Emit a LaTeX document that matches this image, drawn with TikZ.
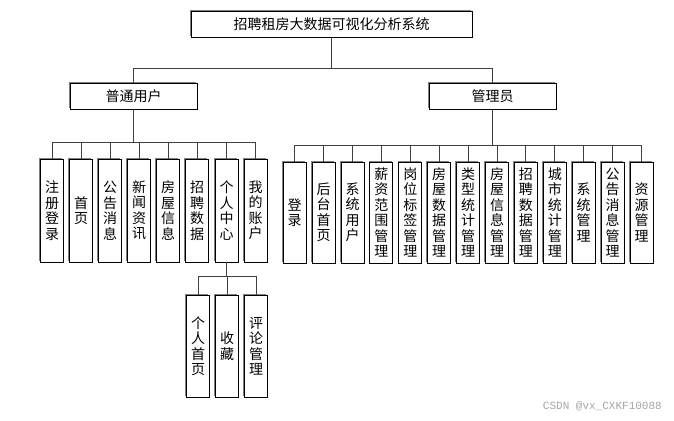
\documentclass[tikz,border=0pt]{standalone}
\usepackage{fontspec}
\usetikzlibrary{shadows}
\newfontfamily\cjk{Noto Sans CJK SC}
\setmonofont{Liberation Mono}
\begin{document}
\begin{tikzpicture}[x=1pt,y=-1pt,
  box/.style={draw=black, line width=0.9pt, fill=white, inner sep=0pt,
    general shadow={shadow xshift=-1.3pt, shadow yshift=1.3pt, fill=black!50, opacity=1},
    font=\cjk\fontsize{14}{15.5}\selectfont},
  hbox/.style={box, minimum width=127pt, minimum height=26pt},
  vbox/.style={box, minimum width=23pt, align=center},
  lbox/.style={vbox, minimum height=103pt},
  rbox/.style={vbox, minimum height=101pt},
  sbox/.style={vbox, minimum height=102pt},
  link/.style={draw=black!75, line width=0.9pt}]
\useasboundingbox (0,0) rectangle (674,420);

% levels
\node[box, minimum width=281pt, minimum height=26pt] (root) at (331.5,24) {招聘租房大数据可视化分析系统};
\node[hbox] (u) at (133.5,96) {普通用户};
\node[hbox] (a) at (492.5,96.5) {管理员};

% left children
\node[lbox] (l0) at (52,210.5) {注\\册\\登\\录};
\node[lbox] (l1) at (81,210.5) {首\\页};
\node[lbox] (l2) at (110,210.5) {公\\告\\消\\息};
\node[lbox] (l3) at (139,210.5) {新\\闻\\资\\讯};
\node[lbox] (l4) at (168,210.5) {房\\屋\\信\\息};
\node[lbox] (l5) at (197,210.5) {招\\聘\\数\\据};
\node[lbox] (l6) at (226.5,210.5) {个\\人\\中\\心};
\node[lbox] (l7) at (255.5,210.5) {我\\的\\账\\户};

% right children
\node[rbox] (r0) at (294.7,212.5) {登\\录};
\node[rbox] (r1) at (323.6,212.5) {后\\台\\首\\页};
\node[rbox] (r2) at (352.5,212.5) {系\\统\\用\\户};
\node[rbox] (r3) at (381.4,212.5) {薪\\资\\范\\围\\管\\理};
\node[rbox] (r4) at (410.3,212.5) {岗\\位\\标\\签\\管\\理};
\node[rbox] (r5) at (439.2,212.5) {房\\屋\\数\\据\\管\\理};
\node[rbox] (r6) at (468.1,212.5) {类\\型\\统\\计\\管\\理};
\node[rbox] (r7) at (497.0,212.5) {房\\屋\\信\\息\\管\\理};
\node[rbox] (r8) at (525.9,212.5) {招\\聘\\数\\据\\管\\理};
\node[rbox] (r9) at (554.8,212.5) {城\\市\\统\\计\\管\\理};
\node[rbox] (r10) at (583.7,212.5) {系\\统\\管\\理};
\node[rbox] (r11) at (612.6,212.5) {公\\告\\消\\息\\管\\理};
\node[rbox] (r12) at (641.5,212.5) {资\\源\\管\\理};

% sub children
\node[sbox] (s0) at (198,346) {个\\人\\首\\页};
\node[sbox] (s1) at (227,346) {收\\藏};
\node[sbox] (s2) at (256,346) {评\\论\\管\\理};

% bus coordinates
\coordinate (tb) at (0,68);
\coordinate (lb) at (0,142);
\coordinate (rb) at (0,145);
\coordinate (sb) at (0,276);

% top level links
\draw[link] (root.south) -- (root.south |- tb);
\draw[link] (u.north) -- (u.north |- tb) -- (a.north |- tb) -- (a.north);

% left links
\draw[link] (u.south) -- (u.south |- lb);
\draw[link] (l0.north |- lb) -- (l7.north |- lb);
\foreach \n in {l0,l1,l2,l3,l4,l5,l6,l7}
  \draw[link] (\n.north) -- (\n.north |- lb);

% right links
\draw[link] (a.south) -- (a.south |- rb);
\draw[link] (r0.north |- rb) -- (r12.north |- rb);
\foreach \n in {r0,r1,r2,r3,r4,r5,r6,r7,r8,r9,r10,r11,r12}
  \draw[link] (\n.north) -- (\n.north |- rb);

% sub links
\draw[link] (l6.south) -- (l6.south |- sb);
\draw[link] (s0.north |- sb) -- (s2.north |- sb);
\foreach \n in {s0,s1,s2}
  \draw[link] (\n.north) -- (\n.north |- sb);

% watermark
\node[font=\ttfamily\fontsize{11}{11}\selectfont, text=black!35, anchor=east, inner sep=0pt] (wm) at (662,406.5) {CSDN @vx\_CXKF10088};
\end{tikzpicture}
\end{document}
